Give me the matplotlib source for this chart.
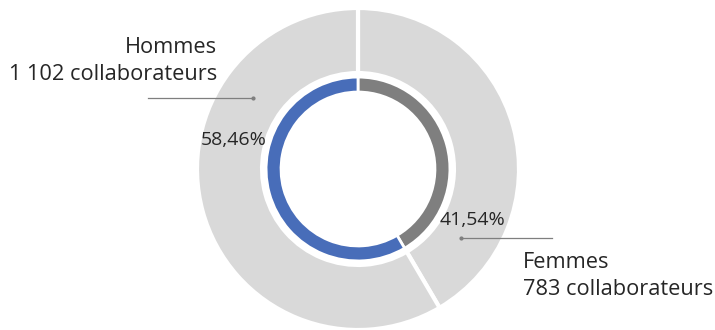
import matplotlib
matplotlib.use("Agg")
import matplotlib.pyplot as plt

labels = ["Femmes", "Hommes"]
counts = [783, 1102]
count_text = ["783", "1 102"]
inner_colors = ["#7F7F7F", "#486DB9"]
outer_color = "#D9D9D9"

plt.rcParams['font.family'] = ['Open Sans', 'DejaVu Sans']
fig = plt.figure(figsize=(7.15, 3.3), dpi=100)
ax = fig.add_axes([0, 0, 1, 1])

ax.pie(counts, radius=1.0, startangle=90, counterclock=False,
       colors=[outer_color]*2,
       wedgeprops=dict(width=0.404, edgecolor='white', linewidth=3))
ax.pie(counts, radius=0.571, startangle=90, counterclock=False,
       colors=inner_colors,
       wedgeprops=dict(width=0.093, edgecolor='white', linewidth=2))

ax.set_xlim(-358/161, (715-358)/161)
ax.set_ylim(-1.0, 169/161)
ax.set_aspect('equal')
ax.axis('off')

total = sum(counts)
pcts = [c / total * 100 for c in counts]
txtc = "#262626"
fs_pct = 14
fs_lab = 15.7
def fmt(p):
    return f"{p:.2f}".replace(".", ",") + "%"

# Femmes
ax.text(0.714, -0.348, fmt(pcts[0]), ha='center', va='baseline', fontsize=fs_pct, color=txtc)
ax.plot([0.640, 1.205], [-0.431, -0.431], color="#7F7F7F", lw=0.9)
ax.plot([0.640], [-0.431], 'o', color="#7F7F7F", ms=2)
ax.text(1.022, -0.615, labels[0], ha='left', va='baseline', fontsize=fs_lab, color=txtc)
ax.text(1.022, -0.783, f"{count_text[0]} collaborateurs", ha='left', va='baseline',
        fontsize=fs_lab, color=txtc)

# Hommes
ax.text(-0.773, 0.149, fmt(pcts[1]), ha='center', va='baseline', fontsize=fs_pct, color=txtc)
ax.plot([-1.304, -0.652], [0.441, 0.441], color="#7F7F7F", lw=0.9)
ax.plot([-0.652], [0.441], 'o', color="#7F7F7F", ms=2)
ax.text(-0.876, 0.720, labels[1], ha='right', va='baseline', fontsize=fs_lab, color=txtc)
ax.text(-0.876, 0.553, f"{count_text[1]} collaborateurs", ha='right', va='baseline',
        fontsize=fs_lab, color=txtc)

fig.savefig("out.png", dpi=100)
